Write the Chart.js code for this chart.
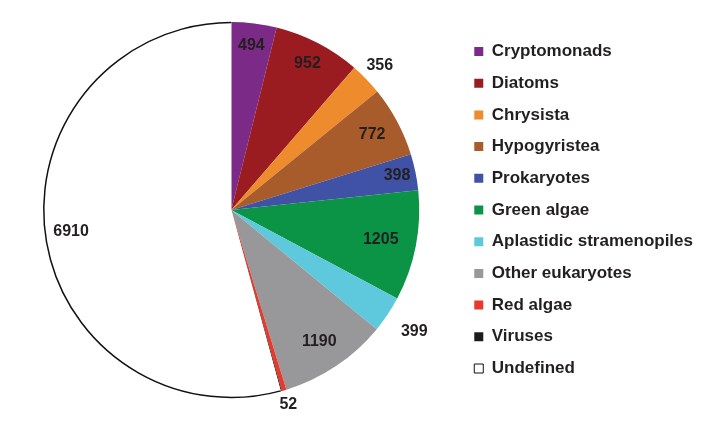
<!DOCTYPE html>
<html>
<head>
<meta charset="utf-8">
<script src="https://cdn.jsdelivr.net/npm/chart.js@4"></script>
<style>
  html, body { margin: 0; padding: 0; background: #fff; }
  #wrap { width: 702px; height: 427px; }
</style>
</head>
<body>
<div id="wrap"><canvas id="pie" width="702" height="427"></canvas></div>
<script>
const categories = ['Cryptomonads', 'Diatoms', 'Chrysista', 'Hypogyristea', 'Prokaryotes', 'Green algae',
  'Aplastidic stramenopiles', 'Other eukaryotes', 'Red algae', 'Viruses', 'Undefined'];
const counts = [494, 952, 356, 772, 398, 1205, 399, 1190, 52, 10, 6910];
const valueLabels = ['494', '952', '356', '772', '398', '1205', '399', '1190', '52', '', '6910'];
const colors = ['#7b2a88', '#9a1b20', '#ee8b2c', '#a95c2b', '#3f52a6', '#0b9346', '#5ec9dc', '#98989b', '#e8392b', '#1c1c1c', '#ffffff'];
// how far out each number sits, as a share of the radius
const labelDist = [0.88, 0.88, 1.1, 0.85, 0.9, 0.81, 1.17, 0.84, 1.08, 0, 0.86];

const FONT = "'Liberation Sans', Arial, sans-serif";

// numbers on / beside the slices, plus the black rim around "Undefined"
const sliceLabels = {
  id: 'sliceLabels',
  afterDatasetsDraw(chart) {
    const ctx = chart.ctx;
    const arcs = chart.getDatasetMeta(0).data;
    const last = arcs[arcs.length - 1];
    const p = last.getProps(['x', 'y', 'startAngle', 'endAngle', 'outerRadius']);
    ctx.save();
    ctx.beginPath();
    ctx.arc(p.x, p.y, p.outerRadius - 0.5, p.startAngle, p.endAngle);
    ctx.strokeStyle = '#111';
    ctx.lineWidth = 1.5;
    ctx.stroke();

    ctx.font = 'bold 16px ' + FONT;
    ctx.fillStyle = '#231f20';
    ctx.textAlign = 'center';
    ctx.textBaseline = 'middle';
    arcs.forEach((arc, i) => {
      if (!valueLabels[i]) return;
      const a = arc.getProps(['x', 'y', 'startAngle', 'endAngle', 'outerRadius']);
      const mid = (a.startAngle + a.endAngle) / 2;
      const r = a.outerRadius * labelDist[i];
      ctx.fillText(valueLabels[i], a.x + Math.cos(mid) * r, a.y + Math.sin(mid) * r);
    });
    ctx.restore();
  }
};

new Chart(document.getElementById('pie'), {
  type: 'pie',
  data: {
    labels: categories,
    datasets: [{
      data: counts,
      backgroundColor: colors,
      borderWidth: 0
    }]
  },
  options: {
    responsive: false,
    animation: false,
    layout: { padding: { top: 22, bottom: 29, left: 3, right: -1 } },
    plugins: {
      tooltip: { enabled: false },
      legend: {
        position: 'right',
        align: 'center',
        labels: {
          boxWidth: 9,
          boxHeight: 9,
          padding: 14.7,
          color: '#231f20',
          font: { family: FONT, size: 17, weight: 'bold' },
          generateLabels(chart) {
            return categories.map((c, i) => ({
              text: c,
              fillStyle: colors[i],
              strokeStyle: i === categories.length - 1 ? '#111' : colors[i],
              lineWidth: i === categories.length - 1 ? 1 : 0,
              fontColor: '#231f20',
              index: i
            }));
          }
        }
      }
    }
  },
  plugins: [sliceLabels]
});
</script>
</body>
</html>
